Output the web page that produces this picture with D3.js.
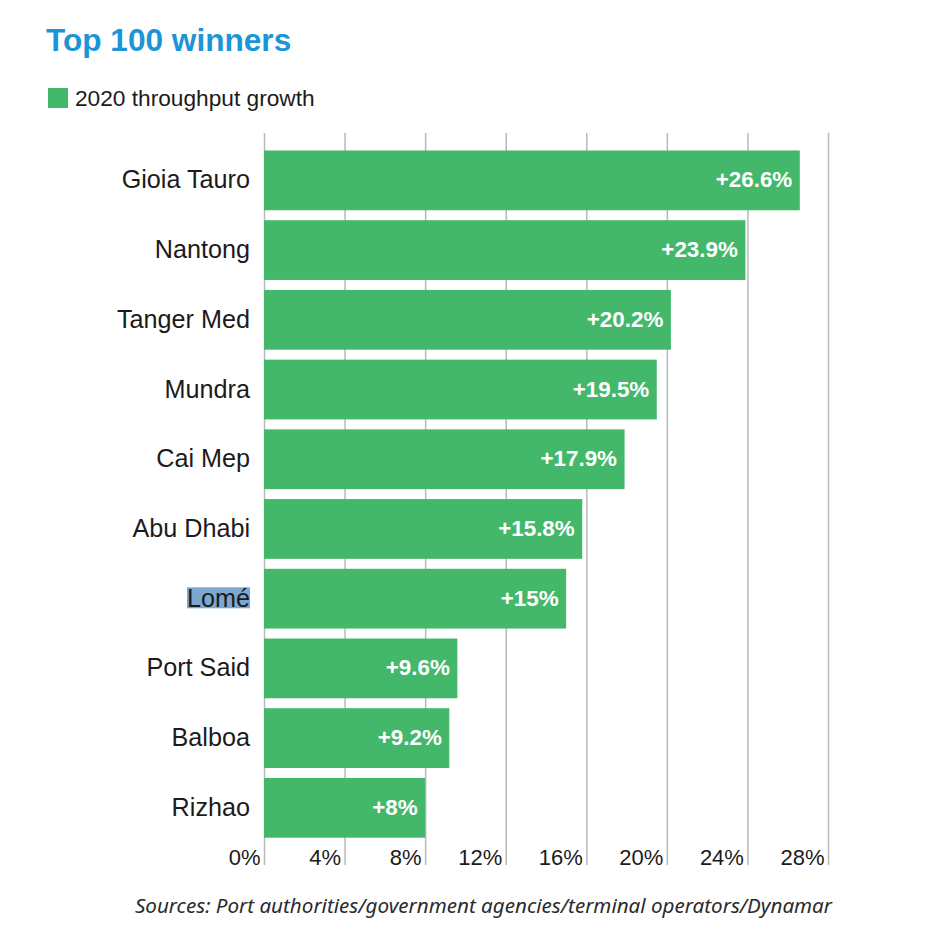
<!DOCTYPE html>
<html>
<head>
<meta charset="utf-8">
<script src="https://cdn.jsdelivr.net/npm/d3@7"></script>
<style>
  html, body { margin: 0; padding: 0; background: #fff; }
  svg { display: block; }
  text { font-family: "Liberation Sans", Arial, sans-serif; }
</style>
</head>
<body>
<svg id="chart" width="940" height="939"></svg>
<script>
const ports = ['Gioia Tauro', 'Nantong', 'Tanger Med', 'Mundra', 'Cai Mep', 'Abu Dhabi', 'Lomé', 'Port Said', 'Balboa', 'Rizhao']
const growth = [26.6, 23.9, 20.2, 19.5, 17.9, 15.8, 15, 9.6, 9.2, 8]
const ticks = [0, 4, 8, 12, 16, 20, 24, 28]
const highlighted = 'Lomé'

const title = 'Top 100 winners'
const legendLabel = '2020 throughput growth'
const source = 'Sources: Port authorities/government agencies/terminal operators/Dynamar'

const green = '#43b86a'
const textColor = '#1d1a1c'
const svg = d3.select('#chart')

const xScale = d3.scaleLinear()
  .domain([0, 28])
  .range([264, 828])

const yScale = d3.scaleBand()
  .domain(ports)
  .range([150.5, 837.7])
  .paddingInner(0.143)
  .paddingOuter(0)

// gridlines come from the axis ticks, bars sit on top
const axisY = 865
const xAxis = d3.axisBottom(xScale)
  .tickValues(ticks)
  .tickSize(-(axisY - 133))
  .tickFormat(d => d + '%')

const xTicks = svg.append('g')
  .attr('transform', `translate(0, ${axisY})`)
  .call(xAxis)

xTicks.select('path.domain').remove()
xTicks.selectAll('.tick line')
  .style('stroke', '#b9b9b9')
  .style('stroke-width', 1.5)
xTicks.selectAll('.tick text')
  .attr('text-anchor', 'end')
  .attr('x', -4)
  .attr('y', 0)
  .attr('dy', 0)
  .style('font-size', '22px')
  .style('fill', textColor)

svg.selectAll('rect.bar')
  .data(growth)
  .enter()
  .append('rect')
  .attr('class', 'bar')
  .attr('x', xScale(0))
  .attr('y', (d, i) => yScale(ports[i]))
  .attr('width', d => xScale(d) - xScale(0))
  .attr('height', yScale.bandwidth())
  .style('fill', green)

// value labels
svg.selectAll('text.value')
  .data(growth)
  .enter()
  .append('text')
  .attr('class', 'value')
  .attr('x', d => xScale(d) - 7.5)
  .attr('y', (d, i) => yScale(ports[i]) + yScale.bandwidth() / 2 + 7)
  .attr('text-anchor', 'end')
  .style('font-size', '22.4px')
  .style('font-weight', 'bold')
  .style('fill', '#fff')
  .text(d => '+' + d + '%')

// port names
const names = svg.selectAll('text.port')
  .data(ports)
  .enter()
  .append('text')
  .attr('class', 'port')
  .attr('x', 250)
  .attr('y', d => yScale(d) + yScale.bandwidth() / 2 + 8)
  .attr('text-anchor', 'end')
  .style('font-size', '25.2px')
  .style('fill', textColor)
  .text(d => d)

// the selection-like blue box behind Lomé
names.filter(d => d === highlighted).each(function () {
  const box = this.getBBox()
  svg.insert('rect', 'text.port')
    .attr('x', box.x)
    .attr('y', yScale(highlighted) + 18.5)
    .attr('width', box.width)
    .attr('height', 21)
    .style('fill', '#7ba8d0')
})

// title, legend, source
svg.append('text')
  .attr('x', 46)
  .attr('y', 51)
  .style('font-size', '31.6px')
  .style('font-weight', 'bold')
  .style('fill', '#1b95d6')
  .text(title)

svg.append('rect')
  .attr('x', 48)
  .attr('y', 88)
  .attr('width', 20)
  .attr('height', 20)
  .style('fill', green)

svg.append('text')
  .attr('x', 75)
  .attr('y', 105.5)
  .style('font-size', '22.7px')
  .style('fill', textColor)
  .text(legendLabel)

svg.append('text')
  .attr('x', 832)
  .attr('y', 913)
  .attr('text-anchor', 'end')
  .style('font-family', '"Noto Sans", sans-serif')
  .style('font-size', '20.6px')
  .style('font-style', 'italic')
  .style('fill', '#2b2a2c')
  .text(source)
</script>
</body>
</html>
